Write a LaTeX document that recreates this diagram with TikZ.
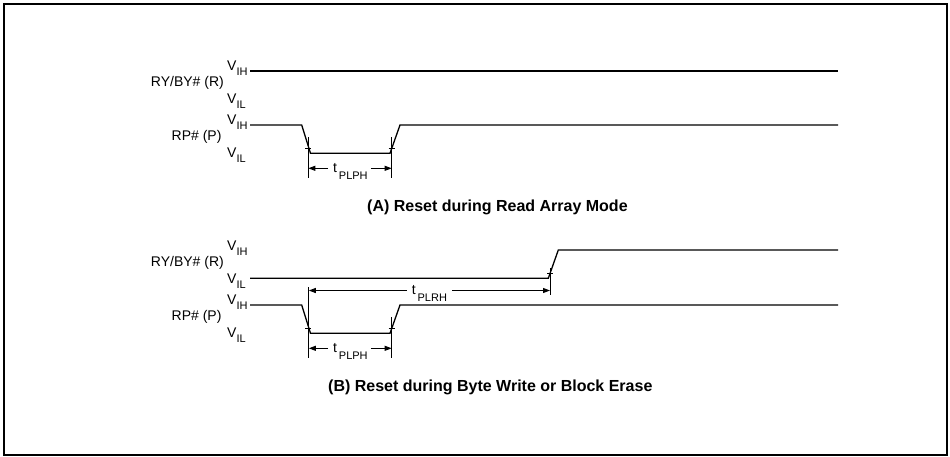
\documentclass[tikz,border=0pt]{standalone}
\usepackage{fontspec}
\setmainfont{Liberation Sans}
\usetikzlibrary{arrows.meta}
\newcommand\vsig[2]{{\fontsize{14}{14}\selectfont #1}\raisebox{-5pt}{\fontsize{11}{11}\selectfont #2}}
\newcommand\tsig[2]{{\fontsize{14}{14}\selectfont #1}\raisebox{-7pt}{\fontsize{11}{11}\selectfont\,#2}}
\begin{document}
\begin{tikzpicture}[x=1pt,y=-1pt,
  lab/.style={inner sep=0pt, font=\fontsize{14}{14}\selectfont},
  ttl/.style={inner sep=0pt, font=\fontsize{16}{16}\selectfont\bfseries},
  wave/.style={line width=1.3pt, line join=miter},
  vline/.style={line width=1pt},
  dim/.style={line width=1pt, -{Triangle[length=7pt,width=5pt]}}]
\path[use as bounding box] (0,0) rectangle (950,456);
\draw[line width=1.6pt] (3.8,3.8) rectangle (947,455);

% ---------- Panel A ----------
\node[lab, anchor=base west] (aRvih) at (227,70) {\vsig{V}{IH}};
\node[lab, anchor=base east] (aRname) at (224,86.7) {RY/BY\# (R)};
\node[lab, anchor=base west] (aRvil) at (227,103) {\vsig{V}{IL}};
\node[lab, anchor=base west] (aPvih) at (227,124.5) {\vsig{V}{IH}};
\node[lab, anchor=base east] (aPname) at (221.7,140) {RP\# (P)};
\node[lab, anchor=base west] (aPvil) at (227,157) {\vsig{V}{IL}};

\draw[wave] (250,71) -- (838,71);
\draw[line width=2.2pt] (399,71) -- (418,71);
\draw[wave] (250,125) -- (301.7,125) -- (310.5,153.3) -- (390,153.3) -- (400,125) -- (838,125);

\draw[vline] (308.3,137) -- (308.3,178);
\draw[vline] (391.7,137) -- (391.7,178);
\draw[vline] (305.3,148) -- (311.3,148);
\draw[vline] (388.7,148.5) -- (394.7,148.5);

\coordinate (aL) at (308.3,168.3);
\coordinate (aR) at (391.7,168.3);
\node[lab, anchor=base west] (aT) at (333,172) {\tsig{t}{PLPH}};
\draw[dim] ([xshift=-5pt]aT.west |- aL) -- (aL);
\draw[dim] ([xshift=3pt]aT.east |- aR) -- (aR);

\node[ttl, anchor=base west] (aTitle) at (367,211.7) {(A) Reset during Read Array Mode};

% ---------- Panel B ----------
\node[lab, anchor=base west] (bRvih) at (227,250) {\vsig{V}{IH}};
\node[lab, anchor=base east] (bRname) at (224,266.7) {RY/BY\# (R)};
\node[lab, anchor=base west] (bRvil) at (227,283) {\vsig{V}{IL}};
\node[lab, anchor=base west] (bPvih) at (227,304.5) {\vsig{V}{IH}};
\node[lab, anchor=base east] (bPname) at (221.7,320) {RP\# (P)};
\node[lab, anchor=base west] (bPvil) at (227,337) {\vsig{V}{IL}};

\draw[wave] (250,278.3) -- (548.3,278.3) -- (558.3,250) -- (838,250);
\draw[wave] (250,305) -- (301.7,305) -- (310.5,333.3) -- (390,333.3) -- (400,305) -- (838,305);

\draw[vline] (308.8,287) -- (308.8,358);
\draw[vline] (391.7,317) -- (391.7,358);
\draw[vline] (550,268) -- (550,295);
\draw[vline] (305.3,328) -- (311.3,328);
\draw[vline] (388.7,328.5) -- (394.7,328.5);
\draw[vline] (547,273.3) -- (553,273.3);

\coordinate (bL) at (308.8,348.3);
\coordinate (bR) at (391.7,348.3);
\node[lab, anchor=base west] (bT) at (333,352) {\tsig{t}{PLPH}};
\draw[dim] ([xshift=-5pt]bT.west |- bL) -- (bL);
\draw[dim] ([xshift=3pt]bT.east |- bR) -- (bR);

\coordinate (bL2) at (308.8,290.5);
\coordinate (bR2) at (550,290.5);
\node[lab, anchor=base west] (bT2) at (411.7,294) {\tsig{t}{PLRH}};
\draw[dim] ([xshift=-5pt]bT2.west |- bL2) -- (bL2);
\draw[dim] ([xshift=5pt]bT2.east |- bR2) -- (bR2);

\node[ttl, anchor=base west] (bTitle) at (328,391.7) {(B) Reset during Byte Write or Block Erase};
\end{tikzpicture}
\end{document}
